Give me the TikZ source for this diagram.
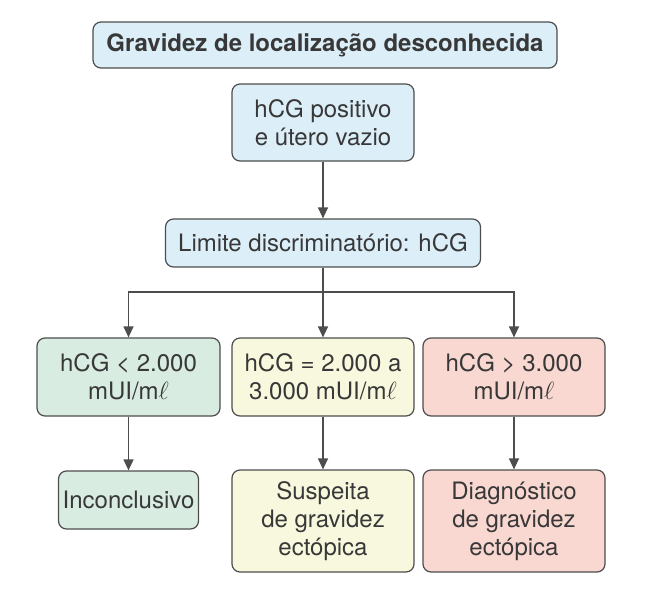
\documentclass[tikz,border=0pt]{standalone}
\usepackage{fontspec}
\setmainfont{TeX Gyre Heros}
\usetikzlibrary{arrows.meta}
\definecolor{boxblue}{HTML}{DCEEF8}
\definecolor{boxgreen}{HTML}{D8ECE2}
\definecolor{boxyellow}{HTML}{F8F8DE}
\definecolor{boxpink}{HTML}{F8D8D0}
\definecolor{linegray}{HTML}{4D4D4D}
\definecolor{textgray}{HTML}{383838}
\begin{document}
\begin{tikzpicture}[x=1pt,y=-1pt]
	\tikzstyle{every node}+=[inner sep=0pt, align=center, text=textgray, font=\fontsize{24}{28}\selectfont]
	\tikzstyle{box}=[draw=linegray, line width=1.2pt, rounded corners=8pt]
	\tikzstyle{arr}=[draw=linegray, line width=1.2pt, -{Triangle[length=11pt,width=10pt]}]
	\useasboundingbox (0,0) rectangle (650,597);
	\node [box, fill=boxblue, minimum width=464pt, minimum height=46pt, font=\fontsize{24}{28}\selectfont\bfseries] (title) at (325,45) {Gravidez de localização desconhecida};
	\node [box, fill=boxblue, minimum width=182pt, minimum height=77pt] (pos) at (323,122.5) {hCG positivo\\e útero vazio};
	\node [box, fill=boxblue, minimum width=315pt, minimum height=48pt] (lim) at (323,243) {Limite discriminatório: hCG};
	\node [box, fill=boxgreen, minimum width=183pt, minimum height=78pt] (low) at (128.5,377) {hCG < 2.000\\mUI/m$\ell$};
	\node [box, fill=boxyellow, minimum width=182pt, minimum height=78pt] (mid) at (323,377) {hCG = 2.000 a\\3.000 mUI/m$\ell$};
	\node [box, fill=boxpink, minimum width=182pt, minimum height=78pt] (high) at (514,377) {hCG > 3.000\\mUI/m$\ell$};
	\node [box, fill=boxgreen, minimum width=140pt, minimum height=58pt] (inc) at (128.5,500) {Inconclusivo};
	\node [box, fill=boxyellow, minimum width=182pt, minimum height=102pt] (susp) at (323,521) {Suspeita\\de gravidez\\ectópica};
	\node [box, fill=boxpink, minimum width=182pt, minimum height=102pt] (diag) at (514,521) {Diagnóstico\\de gravidez\\ectópica};
	% ramos
	\draw [arr] (pos) -- (lim);
	\coordinate (fork) at (323,292);
	\draw [linegray, line width=1.2pt] (lim) -- (fork);
	\draw [arr] (fork) -- (mid);
	\draw [arr] (fork) -| (low);
	\draw [arr] (fork) -| (high);
	\draw [arr] (low) -- (inc);
	\draw [arr] (mid) -- (susp);
	\draw [arr] (high) -- (diag);
\end{tikzpicture}
\end{document}
